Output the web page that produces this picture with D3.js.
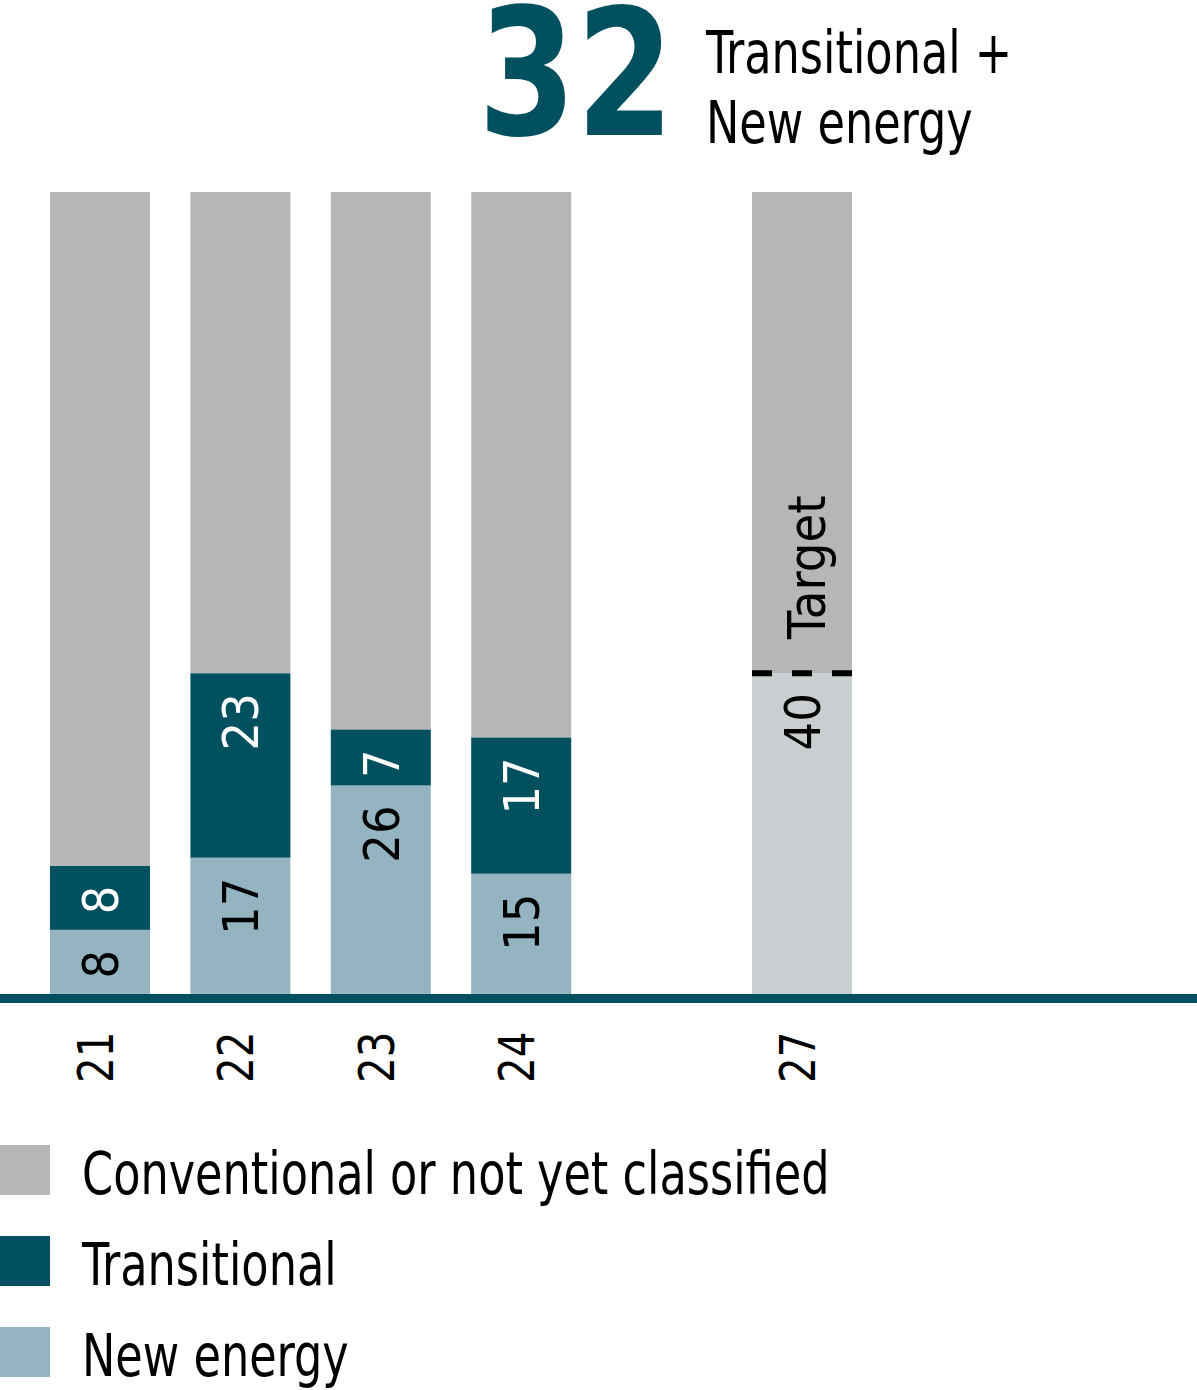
<!DOCTYPE html>
<html>
<head>
<meta charset="utf-8">
<script src="https://cdn.jsdelivr.net/npm/d3@7"></script>
<style>
  html, body { margin: 0; padding: 0; background: #fff; }
  svg { display: block; }
  text { font-family: "Liberation Sans Narrow", "DejaVu Sans Condensed", sans-serif; }
</style>
</head>
<body>
<script>
// Share of capital expenditure, percent
const years = ['21', '22', '23', '24', '27'];
const newEnergy = [8, 17, 26, 15, null];
const transitional = [8, 23, 7, 17, null];
const conventional = [84, 60, 67, 68, 60];
const targetYear = '27';
const targetValue = 40;
const headlineValue = '32';
const headlineLines = ['Transitional +', 'New energy'];
const legendLabels = ['Conventional or not yet classified', 'Transitional', 'New energy'];

// slot list keeps an empty place between 24 and 27
const slots = ['21', '22', '23', '24', 'gap', '27'];

const colors = {
    conventional: '#b5b6b8',
    transitional: '#00505f',
    newEnergy: '#95b4c2',
    target: '#c9cfd1',
    axis: '#00505f'
};

const svgWidth = 1197;
const svgHeight = 1390;
// horizontal squeeze to get closer to the narrow face of the original
const squeeze = 0.855;

const svg = d3.select('body')
    .append('svg')
    .attr('width', svgWidth)
    .attr('height', svgHeight);

const x = d3.scaleBand().domain(slots).range([50, 852]).paddingInner(0.2877).paddingOuter(0);
const y = d3.scaleLinear().domain([0, 100]).range([994, 192]);

// build stacked segments
const segments = [];
years.forEach((year, i) => {
    if (year === targetYear) {
        segments.push({ year, key: 'target', y0: 0, y1: targetValue, value: targetValue });
        segments.push({ year, key: 'conventional', y0: targetValue, y1: targetValue + conventional[i], value: null });
        return;
    }
    let base = 0;
    [['newEnergy', newEnergy[i]], ['transitional', transitional[i]], ['conventional', conventional[i]]].forEach(([key, v]) => {
        segments.push({ year, key, y0: base, y1: base + v, value: key === 'conventional' ? null : v });
        base += v;
    });
});

const bars = svg.append('g').attr('class', 'bars');

bars.selectAll('rect')
    .data(segments)
    .enter()
    .append('rect')
    .attr('x', d => x(d.year))
    .attr('y', d => y(d.y1))
    .attr('width', x.bandwidth())
    .attr('height', d => y(d.y0) - y(d.y1))
    .attr('fill', d => colors[d.key]);

// value labels, rotated, anchored just under the top of each segment
bars.selectAll('text.value')
    .data(segments.filter(d => d.value !== null))
    .enter()
    .append('text')
    .attr('class', 'value')
    .attr('transform', d => `translate(${x(d.year) + x.bandwidth() / 2 + 18},${y(d.y1) + 20}) rotate(-90)`)
    .attr('text-anchor', 'end')
    .attr('font-size', 50)
    .attr('fill', d => d.key === 'transitional' ? '#fff' : '#000')
    .text(d => d.value);

// target marker
const tx = x(targetYear);
bars.append('line')
    .attr('x1', tx)
    .attr('x2', tx + x.bandwidth())
    .attr('y1', y(targetValue))
    .attr('y2', y(targetValue))
    .attr('stroke', '#000')
    .attr('stroke-width', 6)
    .attr('stroke-dasharray', '20,20');

bars.append('text')
    .attr('transform', `translate(${tx + x.bandwidth() / 2 + 23},${y(targetValue) - 34}) rotate(-90)`)
    .attr('text-anchor', 'start')
    .attr('font-size', 52)
    .attr('fill', '#000')
    .text('Target');

// baseline
svg.append('line')
    .attr('x1', 0)
    .attr('x2', svgWidth)
    .attr('y1', y(0) + 4.5)
    .attr('y2', y(0) + 4.5)
    .attr('stroke', colors.axis)
    .attr('stroke-width', 9);

// year labels via axis, reading upward from a common foot
const xAxis = d3.axisBottom(x).tickSize(0).tickValues(years);
const axisG = svg.append('g')
    .attr('transform', `translate(0,${y(0)})`)
    .call(xAxis);
axisG.select('.domain').remove();
axisG.selectAll('.tick text')
    .attr('font-size', 50)
    .attr('font-family', '"Liberation Sans Narrow", "DejaVu Sans Condensed", sans-serif')
    .attr('fill', '#000')
    .attr('text-anchor', 'start')
    .attr('dy', null)
    .attr('y', null)
    .attr('transform', 'translate(13,89) rotate(-90) scale(0.9,1)');

// headline
svg.append('text')
    .attr('transform', 'translate(478,135) scale(0.89,1)')
    .attr('font-size', 176)
    .attr('font-weight', 'bold')
    .attr('fill', colors.transitional)
    .text(headlineValue);

svg.append('g')
    .selectAll('text')
    .data(headlineLines)
    .enter()
    .append('text')
    .attr('transform', (d, i) => `translate(706,${73 + i * 70}) scale(${squeeze},1)`)
    .attr('font-size', 58)
    .attr('fill', '#000')
    .text(d => d);

// legend
const legendKeys = ['conventional', 'transitional', 'newEnergy'];
const legend = svg.append('g')
    .selectAll('g')
    .data(legendLabels)
    .enter()
    .append('g')
    .attr('transform', (d, i) => `translate(0,${1145 + i * 91})`);

legend.append('rect')
    .attr('width', 50)
    .attr('height', 50)
    .attr('fill', (d, i) => colors[legendKeys[i]]);

legend.append('text')
    .attr('transform', `translate(82,49) scale(${squeeze},1)`)
    .attr('font-size', 58)
    .attr('fill', '#000')
    .text(d => d);
</script>
</body>
</html>
